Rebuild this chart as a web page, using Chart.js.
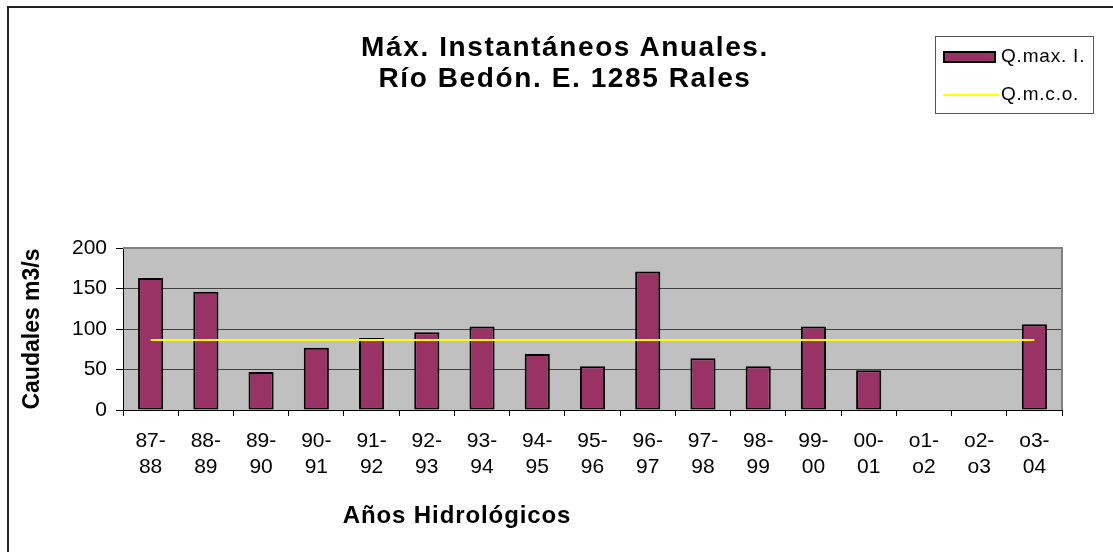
<!DOCTYPE html>
<html>
<head>
<meta charset="utf-8">
<script src="https://cdn.jsdelivr.net/npm/chart.js@4.4.0/dist/chart.umd.min.js"></script>
<style>
  body { margin: 0; background: #fff; font-family: "Liberation Sans", Arial, sans-serif; }
  #wrap { position: relative; width: 1113px; height: 552px; overflow: hidden; }
  #frame { position: absolute; left: 7px; top: 6px; width: 1200px; height: 600px; border-left: 2px solid #222; border-top: 2px solid #222; }
  #title { position: absolute; left: 315px; width: 500px; top: 31px; text-align: center; font-weight: bold; font-size: 28px; line-height: 31px; letter-spacing: 1.6px; color: #000; }
  #xtitle { position: absolute; left: 257px; width: 400px; top: 501px; text-align: center; font-weight: bold; font-size: 24px; letter-spacing: 0.9px; color: #000; }
  #legend { position: absolute; left: 935px; top: 36px; width: 157px; height: 76px; border: 1px solid #555; background: #fff; font-size: 19px; letter-spacing: 0.8px; color: #000; }
  .item { position: absolute; left: 7px; height: 20px; }
  .sw-bar { position: absolute; left: 0; top: 4px; width: 49px; height: 8px; background: #993366; border: 2px solid #000; }
  .sw-line { position: absolute; left: 0; top: 9px; width: 56px; height: 2px; background: #ffff00; }
  .lbl { position: absolute; left: 58px; top: -2px; white-space: nowrap; }
</style>
</head>
<body>
<div id="wrap">
  <div id="frame"></div>
  <canvas id="chart" width="1113" height="552"></canvas>
  <div id="title">Máx. Instantáneos Anuales.<br>Río Bedón. E. 1285 Rales</div>
  <div id="xtitle">Años Hidrológicos</div>
  <div id="legend">
    <div class="item" style="top:10px"><div class="sw-bar"></div><div class="lbl">Q.max. I.</div></div>
    <div class="item" style="top:48px"><div class="sw-line"></div><div class="lbl">Q.m.c.o.</div></div>
  </div>
</div>
<script>
// años hidrológicos
const labels = [
  ['87-', '88'], ['88-', '89'], ['89-', '90'], ['90-', '91'], ['91-', '92'],
  ['92-', '93'], ['93-', '94'], ['94-', '95'], ['95-', '96'], ['96-', '97'],
  ['97-', '98'], ['98-', '99'], ['99-', '00'], ['00-', '01'], ['o1-', 'o2'],
  ['o2-', 'o3'], ['o3-', '04']
];
// caudal máximo instantáneo (m3/s)
const qmax = [163, 146, 47, 77, 89, 96, 103, 69, 54, 171, 64, 54, 103, 49, null, null, 106];
// caudal medio de crecida ordinaria
const qmco = [86.5, 86.5, 86.5, 86.5, 86.5, 86.5, 86.5, 86.5, 86.5, 86.5, 86.5, 86.5, 86.5, 86.5, 86.5, 86.5, 86.5];
const yTicks = [0, 50, 100, 150, 200];

const fontFam = '"Liberation Sans", Arial, sans-serif';

// fondo gris del área de trazado
const plotBg = {
  id: 'plotBg',
  beforeDraw(chart) {
    const { ctx, chartArea: a } = chart;
    ctx.save();
    ctx.fillStyle = '#c0c0c0';
    ctx.fillRect(a.left, a.top, a.right - a.left, a.bottom - a.top);
    ctx.restore();
  },
  afterDatasetsDraw(chart) {
    const { ctx, chartArea: a } = chart;
    ctx.save();
    ctx.strokeStyle = '#808080';
    ctx.lineWidth = 2;
    ctx.beginPath();
    ctx.moveTo(a.left, a.top);
    ctx.lineTo(a.right, a.top);
    ctx.lineTo(a.right, a.bottom);
    ctx.stroke();
    ctx.restore();
  }
};

new Chart(document.getElementById('chart'), {
  data: {
    labels: labels,
    datasets: [
      {
        type: 'line',
        label: 'Q.m.c.o.',
        data: qmco,
        borderColor: '#ffff00',
        borderWidth: 2,
        pointRadius: 0,
        fill: false,
        order: 0
      },
      {
        type: 'bar',
        label: 'Q.max. I.',
        data: qmax,
        backgroundColor: '#993366',
        borderColor: '#000000',
        borderWidth: 2,
        borderSkipped: false,
        barPercentage: 1,
        categoryPercentage: 0.455,
        order: 1
      }
    ]
  },
  options: {
    responsive: false,
    animation: false,
    layout: { padding: { top: 248, right: 51, left: 0, bottom: 0 } },
    plugins: {
      legend: { display: false },
      title: { display: false },
      tooltip: { enabled: false }
    },
    scales: {
      x: {
        offset: true,
        grid: { offset: true, drawOnChartArea: false, drawTicks: true, tickLength: 6, color: '#000' },
        border: { color: '#000', width: 1 },
        ticks: { color: '#000', padding: 12, maxRotation: 0, autoSkip: false, font: { family: fontFam, size: 21, lineHeight: 1.25 } },
        afterFit: (s) => { s.height = 142; }
      },
      y: {
        min: 0,
        max: 200,
        afterBuildTicks: (s) => { s.ticks = yTicks.map(v => ({ value: v })); },
        grid: { color: '#404040', lineWidth: 1, tickLength: 7, tickColor: '#000' },
        border: { color: '#000', width: 1 },
        ticks: { color: '#000', padding: 9, font: { family: fontFam, size: 21 } },
        title: { display: true, text: 'Caudales m3/s', color: '#000', align: 'center', padding: { top: 19, bottom: 0 }, font: { family: fontFam, size: 23, weight: 'bold' } },
        afterFit: (s) => { s.width = 123; }
      }
    }
  },
  plugins: [plotBg]
});
</script>
</body>
</html>
